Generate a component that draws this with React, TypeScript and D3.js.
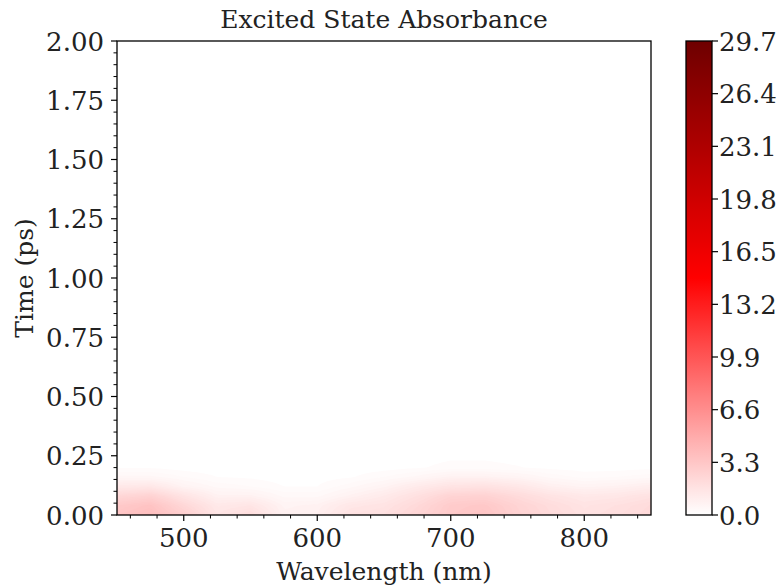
import React from "react";
import * as d3 from "d3";

const wavelengths = [450, 475, 500, 525, 550, 575, 600, 625, 650, 675, 700, 725, 750, 775, 800, 825, 850];
const times = [0, 0.04, 0.08, 0.12, 0.16, 0.2, 0.3, 0.5, 1.0, 2.0];
const absorbance = [
  [3.4, 3.8, 2.8, 1.5, 2.0, 0.8, 0.9, 1.7, 1.8, 2.4, 3.1, 3.4, 2.6, 2.1, 1.7, 1.9, 2.2],
  [3.1, 3.5, 2.3, 1.3, 1.5, 0.7, 0.8, 1.4, 1.6, 2.2, 3.0, 3.2, 2.5, 2.0, 1.6, 1.8, 2.1],
  [2.3, 2.6, 1.6, 0.8, 0.8, 0.4, 0.4, 0.8, 1.2, 1.8, 2.5, 2.6, 2.1, 1.6, 1.3, 1.4, 1.7],
  [1.3, 1.4, 0.7, 0.4, 0.3, 0.15, 0.15, 0.4, 0.7, 1.2, 1.6, 1.7, 1.4, 0.9, 0.7, 0.8, 1.0],
  [0.5, 0.5, 0.3, 0.15, 0.12, 0.07, 0.07, 0.13, 0.3, 0.5, 0.8, 0.8, 0.65, 0.4, 0.25, 0.3, 0.4],
  [0.13, 0.13, 0.07, 0.04, 0.04, 0.03, 0.03, 0.04, 0.07, 0.13, 0.2, 0.2, 0.16, 0.1, 0.07, 0.07, 0.1],
  [0.02, 0.02, 0.01, 0.01, 0.01, 0, 0, 0.01, 0.01, 0.02, 0.03, 0.03, 0.02, 0.02, 0.01, 0.01, 0.02],
  [0, 0, 0, 0, 0, 0, 0, 0, 0, 0, 0, 0, 0, 0, 0, 0, 0],
  [0, 0, 0, 0, 0, 0, 0, 0, 0, 0, 0, 0, 0, 0, 0, 0, 0],
  [0, 0, 0, 0, 0, 0, 0, 0, 0, 0, 0, 0, 0, 0, 0, 0, 0],
];
const xTicks = [500, 600, 700, 800];
const yTicks = [0, 0.25, 0.5, 0.75, 1.0, 1.25, 1.5, 1.75, 2.0];
const cbarTicks = [0, 3.3, 6.6, 9.9, 13.2, 16.5, 19.8, 23.1, 26.4, 29.7];
const title = "Excited State Absorbance";
const xLabel = "Wavelength (nm)";
const yLabel = "Time (ps)";

const W = 782, H = 587;
const L = 117, R = 651, T = 41, B = 515;
const CBL = 686, CBR = 712;
const FONT = "'DejaVu Serif', serif";
const VMAX = 29.7;
const NLEV = 200;

function sample(wl: number, t: number): number {
  let i = d3.bisectRight(wavelengths, wl) - 1;
  i = Math.max(0, Math.min(wavelengths.length - 2, i));
  let j = d3.bisectRight(times, t) - 1;
  j = Math.max(0, Math.min(times.length - 2, j));
  const fx = (wl - wavelengths[i]) / (wavelengths[i + 1] - wavelengths[i]);
  const fy = (t - times[j]) / (times[j + 1] - times[j]);
  const a = absorbance[j][i], b = absorbance[j][i + 1];
  const c = absorbance[j + 1][i], d = absorbance[j + 1][i + 1];
  return (a * (1 - fx) + b * fx) * (1 - fy) + (c * (1 - fx) + d * fx) * fy;
}

export default function App() {
  const x = d3.scaleLinear().domain([450, 850]).range([L, R]);
  const y = d3.scaleLinear().domain([0, 2]).range([B, T]);
  const cy = d3.scaleLinear().domain([0, VMAX]).range([B, T]);
  const color = d3.scaleLinear<string>().domain([0, VMAX / 2, VMAX]).range(["#ffffff", "#ff0000", "#6e0000"]).interpolate(d3.interpolateRgb);

  const levels = d3.range(NLEV + 1).map((k) => (k * VMAX) / NLEV);

  const nx = 201, ny = 401;
  const vals = new Array(nx * ny);
  for (let r = 0; r < ny; r++) {
    const t = (r / (ny - 1)) * 2;
    for (let c = 0; c < nx; c++) {
      const wl = 450 + (c / (nx - 1)) * 400;
      vals[r * nx + c] = sample(wl, t);
    }
  }
  const contours = d3.contours().size([nx, ny]).thresholds(levels.slice(1, -1))(vals);
  const proj = d3.geoTransform({
    point(px: number, py: number) {
      const wl = 450 + ((px - 0.5) / (nx - 1)) * 400;
      const t = ((py - 0.5) / (ny - 1)) * 2;
      this.stream.point(x(wl), y(t));
    },
  });
  const path = d3.geoPath(proj);

  const xMinor = d3.range(460, 851, 20).filter((v) => v % 100 !== 0);
  const yMinor = d3.range(0, 2.0001, 0.05).filter((v) => Math.abs(v / 0.25 - Math.round(v / 0.25)) > 1e-6);
  const gradStops = d3.range(0, 41).map((k) => (k * VMAX) / 40);

  return (
    <svg width={W} height={H} style={{ position: "absolute", left: 0, top: 0, background: "#fff" }} fontFamily={FONT}>
      <defs>
        <clipPath id="plotclip">
          <rect x={L} y={T} width={R - L} height={B - T} />
        </clipPath>
        <linearGradient id="cbgrad" x1="0" y1="1" x2="0" y2="0">
          {gradStops.map((v, k) => (
            <stop key={k} offset={v / VMAX} stopColor={color(v)} />
          ))}
        </linearGradient>
      </defs>
      <rect x={L} y={T} width={R - L} height={B - T} fill={color(0)} />
      <g clipPath="url(#plotclip)">
        {contours.map((c, k) => (
          <path key={k} d={path(c as any) || ""} fill={color(c.value + VMAX / NLEV / 2)} stroke="none" />
        ))}
      </g>
      <rect x={L} y={T} width={R - L} height={B - T} fill="none" stroke="#000" strokeWidth={1.3} />

      {xTicks.map((v) => (
        <g key={v}>
          <line x1={x(v)} x2={x(v)} y1={B} y2={B + 6} stroke="#000" strokeWidth={1.2} />
          <text x={x(v)} y={B + 32} textAnchor="middle" fontSize={26} fill="#222">{v}</text>
        </g>
      ))}
      {xMinor.map((v) => (
        <line key={v} x1={x(v)} x2={x(v)} y1={B} y2={B + 3.5} stroke="#000" strokeWidth={1} />
      ))}
      {yTicks.map((v) => (
        <g key={v}>
          <line x1={L - 6} x2={L} y1={y(v)} y2={y(v)} stroke="#000" strokeWidth={1.2} />
          <text x={L - 13} y={y(v) + 9.5} textAnchor="end" fontSize={26} fill="#222">{v.toFixed(2)}</text>
        </g>
      ))}
      {yMinor.map((v, i) => (
        <line key={i} x1={L - 3.5} x2={L} y1={y(v)} y2={y(v)} stroke="#000" strokeWidth={1} />
      ))}

      <text x={(L + R) / 2} y={28} textAnchor="middle" fontSize={25} fill="#222">{title}</text>
      <text x={(L + R) / 2} y={580} textAnchor="middle" fontSize={25} fill="#222">{xLabel}</text>
      <text transform={`translate(33,${(T + B) / 2}) rotate(-90)`} textAnchor="middle" fontSize={25} fill="#222">{yLabel}</text>

      <rect x={CBL} y={cy(VMAX)} width={CBR - CBL} height={cy(0) - cy(VMAX)} fill="url(#cbgrad)" />
      <rect x={CBL} y={T} width={CBR - CBL} height={B - T} fill="none" stroke="#000" strokeWidth={1.3} />
      {cbarTicks.map((v) => (
        <g key={v}>
          <line x1={CBR} x2={CBR + 6} y1={cy(v)} y2={cy(v)} stroke="#000" strokeWidth={1.2} />
          <text x={CBR + 7} y={cy(v) + 9.5} textAnchor="start" fontSize={26} fill="#222">{v.toFixed(1)}</text>
        </g>
      ))}
    </svg>
  );
}
